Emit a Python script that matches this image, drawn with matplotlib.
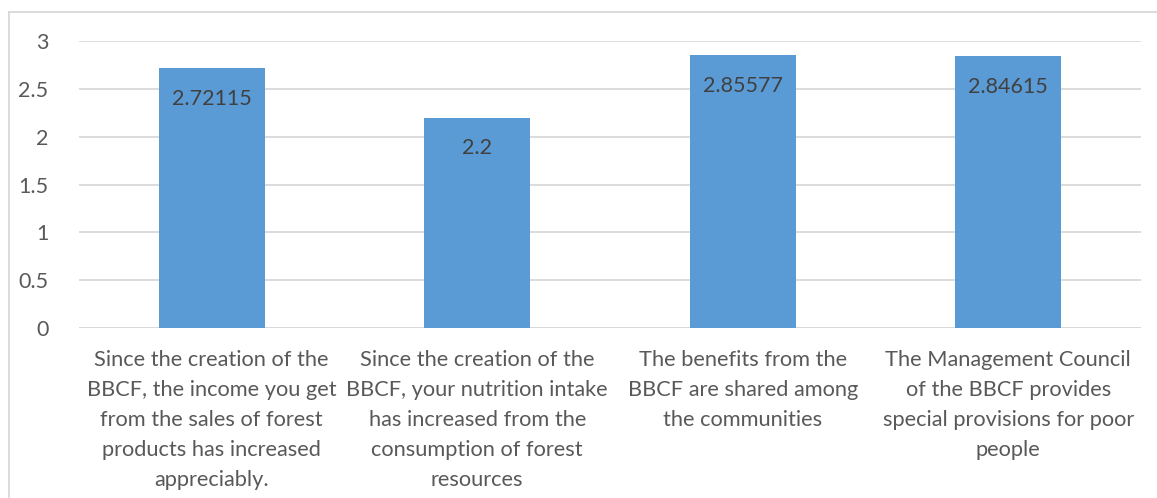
import matplotlib.pyplot as plt
from matplotlib.lines import Line2D

categories = [
    "Since the creation of the\nBBCF, the income you get\nfrom the sales of forest\nproducts has increased\nappreciably.",
    "Since the creation of the\nBBCF, your nutrition intake\nhas increased from the\nconsumption of forest\nresources",
    "The benefits from the\nBBCF are shared among\nthe communities",
    "The Management Council\nof the BBCF provides\nspecial provisions for poor\npeople",
]
values = [2.72115, 2.2, 2.85577, 2.84615]
value_labels = ["2.72115", "2.2", "2.85577", "2.84615"]
yticks = [0, 0.5, 1, 1.5, 2, 2.5, 3]
ytick_labels = ["0", "0.5", "1", "1.5", "2", "2.5", "3"]

plt.rcParams['font.family'] = ['Lato', 'DejaVu Sans']
grey = '#595959'

fig = plt.figure(figsize=(11.57, 4.98), dpi=100)
ax = fig.add_axes([79 / 1157, 1 - 328 / 498, (1141 - 79) / 1157, (328 - 41) / 498])

x = range(len(values))
ax.bar(x, values, width=0.4, color='#5B9BD5', zorder=3)
for i, v in enumerate(values):
    ax.annotate(value_labels[i], (i, v), xytext=(0, -15), textcoords='offset points',
                ha='center', va='top', fontsize=15.5, color='#404040', zorder=4)

ax.set_xlim(-0.5, len(values) - 0.5)
ax.set_ylim(0, 3)
ax.set_yticks(yticks)
ax.set_yticklabels(ytick_labels, fontsize=15.5, color=grey)
ax.set_xticks(list(x))
ax.set_xticklabels(categories, fontsize=15.7, color=grey, linespacing=1.62)
ax.tick_params(axis='both', length=0)
ax.tick_params(axis='y', pad=22)
ax.tick_params(axis='x', pad=16)
ax.grid(axis='y', color='#D9D9D9', linewidth=1.3, zorder=0)
for s in ax.spines.values():
    s.set_visible(False)
ax.axhline(0, color='#D9D9D9', linewidth=1.3, zorder=1)

# chart border (top and left edges visible)
fig.add_artist(Line2D([9 / 1157, 1], [1 - 12 / 498, 1 - 12 / 498], color='#D9D9D9', linewidth=1.3))
fig.add_artist(Line2D([9 / 1157, 9 / 1157], [0, 1 - 12 / 498], color='#D9D9D9', linewidth=1.3))

fig.savefig('out.png', dpi=100)
